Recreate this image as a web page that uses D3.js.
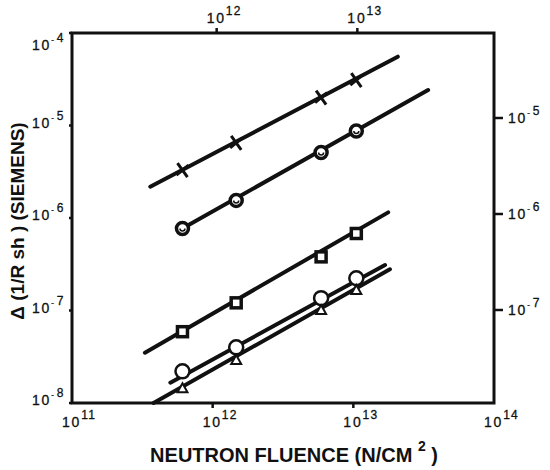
<!DOCTYPE html>
<html>
<head>
<meta charset="utf-8">
<script src="https://cdn.jsdelivr.net/npm/d3@7"></script>
<style>
  html, body { margin: 0; padding: 0; background: #fff; }
  svg { display: block; }
  text { font-family: "Liberation Sans", Arial, Helvetica, sans-serif; fill: #111; }
</style>
</head>
<body>
<script>
// ---------- data ----------
const fluence = [6.1e11, 1.47e12, 5.9e12, 1.05e13];          // N/cm^2
const seriesCross    = [3.3e-6, 6.5e-6, 2.0e-5, 3.1e-5];
const seriesDotCirc  = [7.7e-7, 1.55e-6, 5.1e-6, 8.7e-6];
const seriesSquare   = [5.9e-8, 1.21e-7, 3.8e-7, 6.8e-7];
const seriesCircle   = [2.2e-8, 4.0e-8, 1.36e-7, 2.23e-7];
const seriesTriangle = [1.44e-8, 2.92e-8, 1.01e-7, 1.67e-7];
const seriesNames = ["cross", "dotcircle", "square", "circle", "triangle"];
// fitted straight lines (start / end) for each series, same order
const lineStartX = [3.6e11, 6.0e11, 3.3e11, 5.0e11, 3.8e11];
const lineEndX   = [2.07e13, 3.4e13, 1.77e13, 1.68e13, 1.82e13];
const lineStartY = [2.18e-6, 7.6e-7, 3.5e-8, 1.66e-8, 1.0e-8];
const lineEndY   = [5.55e-5, 2.42e-5, 1.15e-6, 3.1e-7, 2.79e-7];
// axis ticks
const xExpBottom = [11, 12, 13, 14];
const xExpTop = [12, 13];
const yExpLeft = [-4, -5, -6, -7, -8];
const yExpRight = [-5, -6, -7];
const xTitle = "NEUTRON FLUENCE (N/CM";
const yTitle = "Δ (1/R sh ) (SIEMENS)";

const allSeries = [seriesCross, seriesDotCirc, seriesSquare, seriesCircle, seriesTriangle];

// ---------- scales ----------
const W = 550, H = 470;
const x = d3.scaleLog().domain([1e11, 1e14]).range([72, 494]);
const xTop = d3.scaleLog().domain([1e11, 1e14]).range([76, 498]);
const y = d3.scaleLog().domain([1e-8, 1e-4]).range([403, 33]);
const yRight = d3.scaleLog().domain([1e-7, 1e-5]).range([310, 118]);

const svg = d3.select("body").append("svg").attr("width", W).attr("height", H);

// frame
svg.append("rect")
  .attr("x", x.range()[0]).attr("y", y.range()[1])
  .attr("width", x.range()[1] - x.range()[0])
  .attr("height", y.range()[0] - y.range()[1])
  .attr("fill", "none").attr("stroke", "#111").attr("stroke-width", 3);

const stroke = "#111";

// ---------- power-of-ten label helper ----------
function powLabel(g, px, py, exp, negative) {
  const t = g.append("text").attr("x", px).attr("y", py)
    .attr("font-size", 14).attr("letter-spacing", 1.8)
    .attr("stroke", "#111").attr("stroke-width", 0.3);
  t.append("tspan").text("10");
  if (negative) {
    t.append("tspan").attr("dy", -8).attr("font-size", 8).attr("letter-spacing", 0).text("-");
    t.append("tspan").attr("dx", 3).attr("font-size", 12).attr("letter-spacing", 0).text(String(-exp));
  } else {
    t.append("tspan").attr("dy", -8).attr("font-size", 12).attr("letter-spacing", 1.2).text(String(exp));
  }
  return t;
}

// bottom axis ticks + labels
const gB = svg.append("g");
xExpBottom.forEach(e => {
  const v = Math.pow(10, e), px = x(v);
  if (e > 11 && e < 14) {
    gB.append("line").attr("x1", px).attr("x2", px).attr("y1", y.range()[0]).attr("y2", y.range()[0] + 5)
      .attr("stroke", stroke).attr("stroke-width", 2.5);
  }
  powLabel(gB, px - 10, 427, e, false);
});

// top axis ticks + labels
const gT = svg.append("g");
xExpTop.forEach(e => {
  const v = Math.pow(10, e), px = xTop(v);
  gT.append("line").attr("x1", px).attr("x2", px).attr("y1", y.range()[1]).attr("y2", y.range()[1] - 5)
    .attr("stroke", stroke).attr("stroke-width", 2.5);
  powLabel(gT, px - 10, 23, e, false);
});

// left axis ticks + labels
const gL = svg.append("g");
yExpLeft.forEach(e => {
  const v = Math.pow(10, e), py = y(v);
  gL.append("line").attr("x1", x.range()[0] - 3).attr("x2", x.range()[0]).attr("y1", py).attr("y2", py)
    .attr("stroke", stroke).attr("stroke-width", 2.5);
  powLabel(gL, 32, Math.max(py + 2, y.range()[1] + 17), e, true);
});

// right axis ticks + labels
const gR = svg.append("g");
yExpRight.forEach(e => {
  const v = Math.pow(10, e), py = yRight(v);
  gR.append("line").attr("x1", x.range()[1]).attr("x2", x.range()[1] + 9).attr("y1", py).attr("y2", py)
    .attr("stroke", stroke).attr("stroke-width", 2.5);
  powLabel(gR, 508, py + 5, e, true);
});

// axis titles
const xt = svg.append("text").attr("x", 294).attr("y", 462).attr("text-anchor", "middle")
  .attr("font-size", 20).attr("font-weight", "bold");
xt.append("tspan").text(xTitle + " ");
xt.append("tspan").attr("dy", -11).attr("font-size", 14).text("2");
xt.append("tspan").attr("dy", 11).text(" )");

svg.append("text")
  .attr("transform", "translate(24,221) rotate(-90)")
  .attr("text-anchor", "middle")
  .attr("font-size", 19).attr("font-weight", "bold")
  .text(yTitle);

// ---------- fitted lines ----------
const gLines = svg.append("g");
seriesNames.forEach((n, i) => {
  gLines.append("line")
    .attr("x1", x(lineStartX[i])).attr("y1", y(lineStartY[i]))
    .attr("x2", x(lineEndX[i])).attr("y2", y(lineEndY[i]))
    .attr("stroke", stroke).attr("stroke-width", 4).attr("stroke-linecap", "round");
});

// ---------- markers ----------
const gM = svg.append("g");
allSeries.forEach((vals, i) => {
  const name = seriesNames[i];
  vals.forEach((v, j) => {
    const g = gM.append("g").attr("transform", `translate(${x(fluence[j])},${y(v)})`);
    if (name === "cross") {
      g.append("path").attr("d", "M-5,-7L5,7M-6,5L6,-5")
        .attr("stroke", stroke).attr("stroke-width", 3).attr("fill", "none");
    } else if (name === "dotcircle") {
      g.append("circle").attr("r", 6).attr("fill", "#fff").attr("stroke", stroke).attr("stroke-width", 3.5);
      g.append("path").attr("d", "M-2.5,0A2.5,2.5 0 0 0 2.5,0")
        .attr("fill", "none").attr("stroke", stroke).attr("stroke-width", 1.5);
    } else if (name === "square") {
      g.append("rect").attr("x", -5).attr("y", -5).attr("width", 10).attr("height", 10)
        .attr("fill", "#fff").attr("stroke", stroke).attr("stroke-width", 3.5);
    } else if (name === "circle") {
      g.append("circle").attr("r", 7).attr("fill", "#fff").attr("stroke", stroke).attr("stroke-width", 2.5);
    } else if (name === "triangle") {
      g.append("path").attr("d", "M0,-5L5,4L-5,4Z")
        .attr("fill", "#fff").attr("stroke", stroke).attr("stroke-width", 2);
    }
  });
});
</script>
</body>
</html>
